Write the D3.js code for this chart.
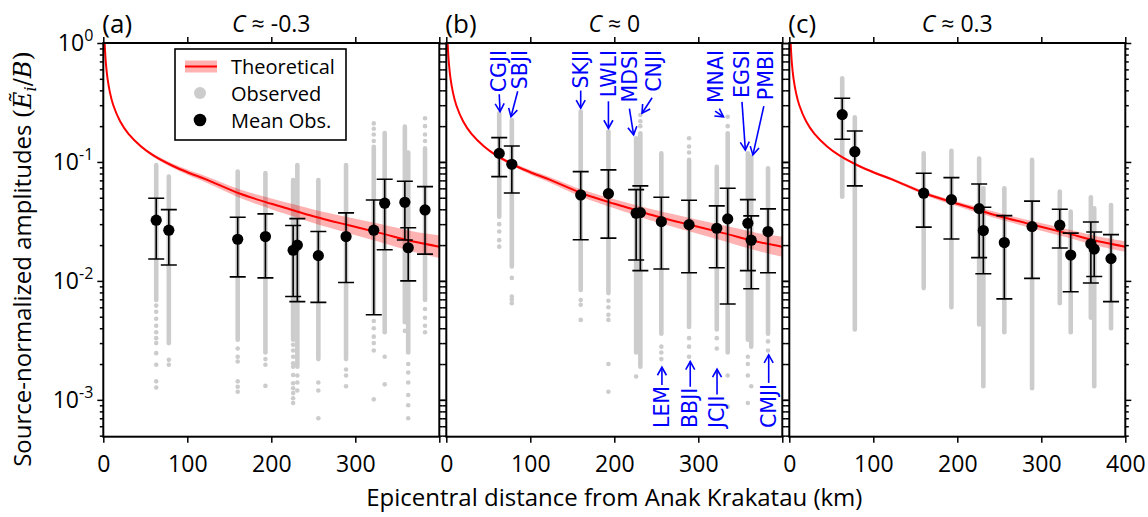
<!DOCTYPE html>
<html>
<head>
<meta charset="utf-8">
<script src="https://cdn.jsdelivr.net/npm/d3@7"></script>
<style>
  body { margin: 0; background: #fff; }
  text { font-family: "Open Sans", "Noto Sans", sans-serif; }
</style>
</head>
<body>
<div id="chart"></div>
<script>
// stations, sorted by epicentral distance (km)
var stations = ["CGJI", "SBJI", "SKJI", "LWLI", "MDSI", "CNJI", "LEM", "BBJI", "JCJI", "MNAI", "EGSI", "PMBI", "CMJI"];
var distances = [63, 78, 160, 193, 226, 231, 256, 289, 322, 335, 359, 363, 383];

var panelLetters = ["(a)", "(b)", "(c)"];
var panelC = ["-0.3", "0", "0.3"];

// mean observed amplitude and error bar ends, one array per panel
var meanA = [0.0324, 0.0267, 0.0224, 0.0236, 0.0181, 0.0200, 0.0163, 0.0236, 0.0267, 0.0450, 0.0458, 0.0190, 0.0395];
var upA   = [0.0495, 0.0397, 0.0343, 0.0366, 0.0292, 0.0334, 0.0260, 0.0373, 0.0479, 0.0716, 0.0689, 0.0280, 0.0620];
var lowA  = [0.0153, 0.0136, 0.0108, 0.0106, 0.0074, 0.0067, 0.0066, 0.0097, 0.0052, 0.0183, 0.0221, 0.0100, 0.0168];

var meanB = [0.118, 0.0956, 0.0528, 0.0542, 0.0371, 0.0375, 0.0315, 0.0297, 0.0277, 0.0332, 0.0305, 0.0220, 0.0260];
var upB   = [0.160, 0.136, 0.0829, 0.0857, 0.0585, 0.0629, 0.0505, 0.0476, 0.0427, 0.0601, 0.0482, 0.0352, 0.0403];
var lowB  = [0.0753, 0.0549, 0.0222, 0.0229, 0.0150, 0.0122, 0.0126, 0.0117, 0.0129, 0.0064, 0.0122, 0.0086, 0.0117];

var meanC = [0.250, 0.122, 0.0546, 0.0482, 0.0405, 0.0265, 0.0210, 0.0286, 0.0294, 0.0165, 0.0205, 0.0185, 0.0154];
var upC   = [0.343, 0.182, 0.0804, 0.0738, 0.0653, 0.0416, 0.0354, 0.0468, 0.0400, 0.0252, 0.0313, 0.0258, 0.0245];
var lowC  = [0.155, 0.0629, 0.0283, 0.0225, 0.0157, 0.0115, 0.00706, 0.0105, 0.0189, 0.0081, 0.0096, 0.0109, 0.0067];

// observed amplitudes: dense part of each station column (top, bottom)
var obsTopA = [0.094, 0.0753, 0.083, 0.0806, 0.0706, 0.094, 0.0706, 0.094, 0.134, 0.175, 0.198, 0.12, 0.13];
var obsBotA = [0.0069, 0.0030, 0.0032, 0.0025, 0.0032, 0.0019, 0.0022, 0.0022, 0.0054, 0.0037, 0.0045, 0.0025, 0.0069];
var obsTopB = [0.257, 0.225, 0.265, 0.18, 0.158, 0.174, 0.118, 0.104, 0.0912, 0.174, 0.118, 0.111, 0.0885];
var obsBotB = [0.0347, 0.0132, 0.0084, 0.0079, 0.0025, 0.0019, 0.0036, 0.0041, 0.0039, 0.0025, 0.0032, 0.0028, 0.0036];
var obsTopC = [0.505, 0.237, 0.118, 0.124, 0.107, 0.060, 0.060, 0.104, 0.0563, 0.0382, 0.0505, 0.0408, 0.0435];
var obsBotC = [0.0511, 0.0039, 0.0087, 0.0060, 0.0043, 0.0013, 0.0037, 0.00125, 0.0065, 0.0037, 0.0049, 0.0013, 0.0040];

// isolated observed points: [station index, amplitude]
var obsDotsA = [
  [0, 0.0062], [0, 0.0055], [0, 0.0048], [0, 0.0042], [0, 0.0037], [0, 0.0033], [0, 0.0030],
  [0, 0.00247], [0, 0.00197], [0, 0.00143], [0, 0.00127],
  [1, 0.00217], [1, 0.00197],
  [2, 0.0027], [2, 0.0023], [2, 0.0021], [2, 0.00143], [2, 0.00129], [2, 0.00117],
  [3, 0.0022], [3, 0.00197], [3, 0.00131],
  [4, 0.0029], [4, 0.0026], [4, 0.0023], [4, 0.00203], [4, 0.0019], [4, 0.00162], [4, 0.00138],
  [4, 0.00125], [4, 0.00114], [4, 0.00103], [4, 0.00094],
  [5, 0.0016], [5, 0.0014], [5, 0.0012],
  [6, 0.0014], [6, 0.0012], [6, 0.0007],
  [7, 0.0018], [7, 0.0016], [7, 0.0013],
  [8, 0.211], [8, 0.19], [8, 0.17], [8, 0.15], [8, 0.0046], [8, 0.0040], [8, 0.0034],
  [8, 0.0030], [8, 0.0026], [8, 0.00101],
  [9, 0.0023], [9, 0.00135],
  [10, 0.0038],
  [11, 0.0020], [11, 0.0017], [11, 0.0014], [11, 0.0011], [11, 0.0009], [11, 0.0007],
  [12, 0.233], [12, 0.20], [12, 0.17], [12, 0.15], [12, 0.0058], [12, 0.0049], [12, 0.0042], [12, 0.0037]
];
var obsDotsB = [
  [0, 0.030], [0, 0.026], [0, 0.022], [0, 0.0194],
  [1, 0.0106], [1, 0.0074], [1, 0.0070], [1, 0.0065],
  [2, 0.0069], [2, 0.0063], [2, 0.0047],
  [3, 0.0068], [3, 0.0060], [3, 0.0052], [3, 0.0047], [3, 0.0020], [3, 0.00117],
  [4, 0.00157],
  [5, 0.248], [5, 0.22], [5, 0.20],
  [6, 0.0028], [6, 0.0025], [6, 0.0022],
  [7, 0.158], [7, 0.135], [7, 0.12], [7, 0.0033], [7, 0.0028], [7, 0.0023],
  [8, 0.0033], [8, 0.0027], [8, 0.0017],
  [9, 0.24], [9, 0.20], [9, 0.0016], [9, 0.00088],
  [10, 0.0023], [10, 0.0020], [10, 0.0016], [10, 0.00094],
  [11, 0.0013],
  [12, 0.0031], [12, 0.0026]
];
var obsDotsC = [];

// theoretical curve (same in the three panels)
var theoryDist = [1.2, 1.6, 3, 5, 8, 12, 20, 30, 45, 60, 83, 100, 123, 163, 200, 222, 250, 290, 330, 369, 400];
var theoryVal  = [1.19, 1.0, 0.686, 0.505, 0.381, 0.298, 0.220, 0.172, 0.135, 0.113, 0.0925, 0.082, 0.071, 0.054, 0.0445, 0.040, 0.035, 0.0296, 0.0252, 0.0214, 0.0194];
// half width of the uncertainty band (log10 units)
var bandA = [0, 0, 0, 0, 0, 0.002, 0.004, 0.006, 0.01, 0.013, 0.018, 0.022, 0.027, 0.036, 0.045, 0.05, 0.057, 0.066, 0.076, 0.085, 0.095];
var bandB = [0, 0, 0, 0, 0, 0.002, 0.003, 0.005, 0.008, 0.011, 0.015, 0.019, 0.023, 0.031, 0.038, 0.043, 0.049, 0.057, 0.066, 0.075, 0.085];
var bandC = [0, 0, 0, 0, 0, 0.001, 0.002, 0.003, 0.005, 0.006, 0.009, 0.010, 0.012, 0.016, 0.020, 0.023, 0.026, 0.030, 0.035, 0.040, 0.045];

// station labels in panel (b)
var topLabels  = ["CGJI", "SBJI", "SKJI", "LWLI", "MDSI", "CNJI", "MNAI", "EGSI", "PMBI"];
var topTextX   = [62, 87, 160, 193, 219, 247, 321, 352, 380];
var topFromX   = [63, 85, 160, 193, 218, 245, 320, 352, 378];
var topTipX    = [64, 77, 160, 193, 223, 233, 330, 356, 365];
var topTipY    = [0.265, 0.240, 0.283, 0.192, 0.169, 0.257, 0.240, 0.126, 0.1146];
var topGap     = [2, 2, 2, 4, 6, 6, 8, 4, 6];
var botLabels  = ["LEM", "BBJI", "JCJI", "CMJI"];
var botTextX   = [256.7, 290.4, 322.3, 383.8];
var botTipY    = [0.00188, 0.0021, 0.00181, 0.00239];

var xTicks = [0, 100, 200, 300, 400];
var yMajor = [1e-3, 1e-2, 1e-1, 1];
var yMajorExp = ["-3", "-2", "-1", "0"];

var panels = [
  {mean: meanA, up: upA, low: lowA, top: obsTopA, bot: obsBotA, dots: obsDotsA, band: bandA},
  {mean: meanB, up: upB, low: lowB, top: obsTopB, bot: obsBotB, dots: obsDotsB, band: bandB},
  {mean: meanC, up: upC, low: lowC, top: obsTopC, bot: obsBotC, dots: obsDotsC, band: bandC}
];

// set the dimensions of the figure
var W = 1148, H = 517;
var left0 = 103.3, top0 = 43, pw = 336, ph = 393.7, step = 343;
var grey = "#cccccc", blue = "#0000ff";
var tickFont = "23px", labelFont = "24px", annFont = "20.5px";

var svg = d3.select("#chart")
  .append("svg")
  .attr("width", W)
  .attr("height", H);

var defs = svg.append("defs");
defs.append("marker")
  .attr("id", "arrow")
  .attr("viewBox", "-10 -6 12 12")
  .attr("refX", 0).attr("refY", 0)
  .attr("markerWidth", 12).attr("markerHeight", 12)
  .attr("markerUnits", "userSpaceOnUse")
  .attr("orient", "auto")
  .append("path")
  .attr("d", "M-8,-4.5 L0,0 L-8,4.5")
  .attr("fill", "none")
  .attr("stroke", blue)
  .attr("stroke-width", 1.6);

var y = d3.scaleLog().domain([4.9e-4, 1]).range([ph, 0]);

// minor ticks of the log axis
var yMinor = [];
[1e-4, 1e-3, 1e-2, 1e-1].forEach(function(dec) {
  for (var k = 2; k <= 9; k++) {
    var v = k * dec;
    if (v >= 4.9e-4 && v < 1) yMinor.push(v);
  }
});

panels.forEach(function(p, pi) {
  var x = d3.scaleLinear().domain([0, 400]).range([0, pw]);
  var g = svg.append("g")
    .attr("transform", "translate(" + (left0 + pi * step) + "," + top0 + ")");

  g.append("clipPath").attr("id", "clip" + pi)
    .append("rect").attr("width", pw).attr("height", ph);

  var plot = g.append("g").attr("clip-path", "url(#clip" + pi + ")");

  // observed points: dense columns then isolated dots
  plot.selectAll(".col")
    .data(distances)
    .join("line")
    .attr("x1", function(d) { return x(d); })
    .attr("x2", function(d) { return x(d); })
    .attr("y1", function(d, i) { return y(p.top[i]); })
    .attr("y2", function(d, i) { return y(p.bot[i]); })
    .attr("stroke", grey)
    .attr("stroke-width", 4.6)
    .attr("stroke-linecap", "round");

  plot.selectAll(".dot")
    .data(p.dots)
    .join("circle")
    .attr("cx", function(d) { return x(distances[d[0]]); })
    .attr("cy", function(d) { return y(d[1]); })
    .attr("r", 2.3)
    .attr("fill", grey);

  // theoretical band and line
  var theo = theoryDist.map(function(d, i) {
    return {d: d, v: theoryVal[i], b: p.band[i]};
  });
  plot.append("path")
    .datum(theo)
    .attr("fill", "#ff0000")
    .attr("fill-opacity", 0.3)
    .attr("d", d3.area()
      .curve(d3.curveCatmullRom.alpha(0.5))
      .x(function(d) { return x(d.d); })
      .y0(function(d) { return y(d.v / Math.pow(10, d.b)); })
      .y1(function(d) { return y(d.v * Math.pow(10, d.b)); }));
  plot.append("path")
    .datum(theo)
    .attr("fill", "none")
    .attr("stroke", "#ff0000")
    .attr("stroke-width", 2)
    .attr("d", d3.line()
      .curve(d3.curveCatmullRom.alpha(0.5))
      .x(function(d) { return x(d.d); })
      .y(function(d) { return y(d.v); }));

  // error bars and means
  var eb = plot.append("g").attr("stroke", "#000").attr("stroke-width", 1.6);
  distances.forEach(function(d, i) {
    var cx = x(d);
    eb.append("line").attr("x1", cx).attr("x2", cx)
      .attr("y1", y(p.up[i])).attr("y2", y(p.low[i]));
    eb.append("line").attr("x1", cx - 8).attr("x2", cx + 8)
      .attr("y1", y(p.up[i])).attr("y2", y(p.up[i]));
    eb.append("line").attr("x1", cx - 8).attr("x2", cx + 8)
      .attr("y1", y(p.low[i])).attr("y2", y(p.low[i]));
  });
  plot.selectAll(".mean")
    .data(distances)
    .join("circle")
    .attr("cx", function(d) { return x(d); })
    .attr("cy", function(d, i) { return y(p.mean[i]); })
    .attr("r", 5.6)
    .attr("fill", "#000");

  // axes: all ticks point outward
  function styleAxis(sel) {
    sel.select(".domain").remove();
    sel.selectAll(".tick line").attr("stroke", "#000").attr("stroke-width", 1.5);
    sel.selectAll(".tick text").attr("fill", "#000").style("font-size", tickFont)
      .style("font-family", "'Open Sans', sans-serif");
  }
  var xb = g.append("g").attr("transform", "translate(0," + ph + ")")
    .call(d3.axisBottom(x).tickValues(xTicks).tickSize(6).tickPadding(13)
      .tickFormat(function(d) { return (d === 400 && pi < 2) ? "" : d; }));
  styleAxis(xb);
  var xt = g.append("g")
    .call(d3.axisTop(x).tickValues(xTicks).tickSize(6).tickFormat(""));
  styleAxis(xt);

  [["left", d3.axisLeft, 0], ["right", d3.axisRight, pw]].forEach(function(side) {
    var major = g.append("g").attr("transform", "translate(" + side[2] + ",0)")
      .call(side[1](y).tickValues(yMajor).tickSize(6).tickFormat(""));
    styleAxis(major);
    var minor = g.append("g").attr("transform", "translate(" + side[2] + ",0)")
      .call(side[1](y).tickValues(yMinor).tickSize(3.5).tickFormat(""));
    styleAxis(minor);
  });

  // frame
  g.append("rect")
    .attr("width", pw).attr("height", ph)
    .attr("fill", "none")
    .attr("stroke", "#000")
    .attr("stroke-width", 2);

  // panel titles
  g.append("text")
    .attr("x", -1).attr("y", -10)
    .style("font-size", "26px")
    .text(panelLetters[pi]);
  var t = g.append("text")
    .attr("x", pw / 2).attr("y", -11)
    .attr("text-anchor", "middle")
    .style("font-size", "23px");
  t.append("tspan").style("font-style", "italic").text("C");
  t.append("tspan").text(" \u2248 " + panelC[pi]);

  if (pi === 0) {
    // y tick labels 10^n
    yMajor.forEach(function(v, k) {
      var lab = g.append("text")
        .attr("x", -10).attr("y", y(v) + 8)
        .attr("text-anchor", "end")
        .style("font-size", tickFont);
      lab.append("tspan").text("10");
      lab.append("tspan").attr("dy", -10).style("font-size", "16px").text(yMajorExp[k]);
    });

    // legend
    var lg = g.append("g").attr("transform", "translate(" + (175 - left0) + "," + (49 - top0) + ")");
    lg.append("rect").attr("width", 171).attr("height", 91)
      .attr("fill", "#fff").attr("stroke", "#000").attr("stroke-width", 1.6);
    lg.append("rect").attr("x", 10).attr("y", 11.5).attr("width", 32).attr("height", 12)
      .attr("fill", "#ff0000").attr("fill-opacity", 0.3);
    lg.append("line").attr("x1", 10).attr("x2", 42).attr("y1", 17.5).attr("y2", 17.5)
      .attr("stroke", "#ff0000").attr("stroke-width", 2);
    lg.append("circle").attr("cx", 25).attr("cy", 44).attr("r", 6).attr("fill", grey);
    lg.append("circle").attr("cx", 25).attr("cy", 71).attr("r", 6.3).attr("fill", "#000");
    ["Theoretical", "Observed", "Mean Obs."].forEach(function(s, k) {
      lg.append("text").attr("x", 56).attr("y", 25 + k * 27)
        .style("font-size", "20px").text(s);
    });
  }

  if (pi === 1) {
    // station labels with arrows, arrows start right after the text
    var ann = g.append("g");
    var textTop = 50 - top0, textBottom = 428 - top0;
    topLabels.forEach(function(s, k) {
      var txt = ann.append("text")
        .attr("transform", "translate(" + x(topTextX[k]) + "," + textTop + ") rotate(-90)")
        .attr("text-anchor", "end")
        .attr("dy", "0.35em")
        .attr("fill", blue)
        .style("font-family", "'DejaVu Sans', sans-serif")
        .style("font-size", annFont)
        .text(s);
      var len = txt.node().getComputedTextLength();
      ann.append("line")
        .attr("x1", x(topFromX[k])).attr("y1", textTop + len + topGap[k])
        .attr("x2", x(topTipX[k])).attr("y2", y(topTipY[k]))
        .attr("stroke", blue).attr("stroke-width", 1.6)
        .attr("marker-end", "url(#arrow)");
    });
    botLabels.forEach(function(s, k) {
      var txt = ann.append("text")
        .attr("transform", "translate(" + x(botTextX[k]) + "," + textBottom + ") rotate(-90)")
        .attr("text-anchor", "start")
        .attr("dy", "0.35em")
        .attr("fill", blue)
        .style("font-family", "'DejaVu Sans', sans-serif")
        .style("font-size", annFont)
        .text(s);
      var len = txt.node().getComputedTextLength();
      ann.append("line")
        .attr("x1", x(botTextX[k])).attr("y1", textBottom - len - 1)
        .attr("x2", x(botTextX[k])).attr("y2", y(botTipY[k]))
        .attr("stroke", blue).attr("stroke-width", 1.6)
        .attr("marker-end", "url(#arrow)");
    });
  }
});

// x label, centred under the middle panel
svg.append("text")
  .attr("x", left0 + step + pw / 2)
  .attr("y", 506)
  .attr("text-anchor", "middle")
  .style("font-size", labelFont)
  .text("Epicentral distance from Anak Krakatau (km)");

// y label with the math part in serif
var yl = svg.append("text")
  .attr("transform", "translate(31,259) rotate(-90)")
  .attr("text-anchor", "middle")
  .style("font-size", labelFont);
yl.append("tspan").text("Source-normalized amplitudes ");
var m = yl.append("tspan").style("font-family", "'DejaVu Serif', serif");
m.append("tspan").text("(");
m.append("tspan").style("font-style", "italic").text("E\u0303");
m.append("tspan").style("font-style", "italic").style("font-size", "16px").attr("dy", 5).text("i");
m.append("tspan").attr("dy", -5).text("/");
m.append("tspan").style("font-style", "italic").text("B");
m.append("tspan").text(")");
</script>
</body>
</html>
